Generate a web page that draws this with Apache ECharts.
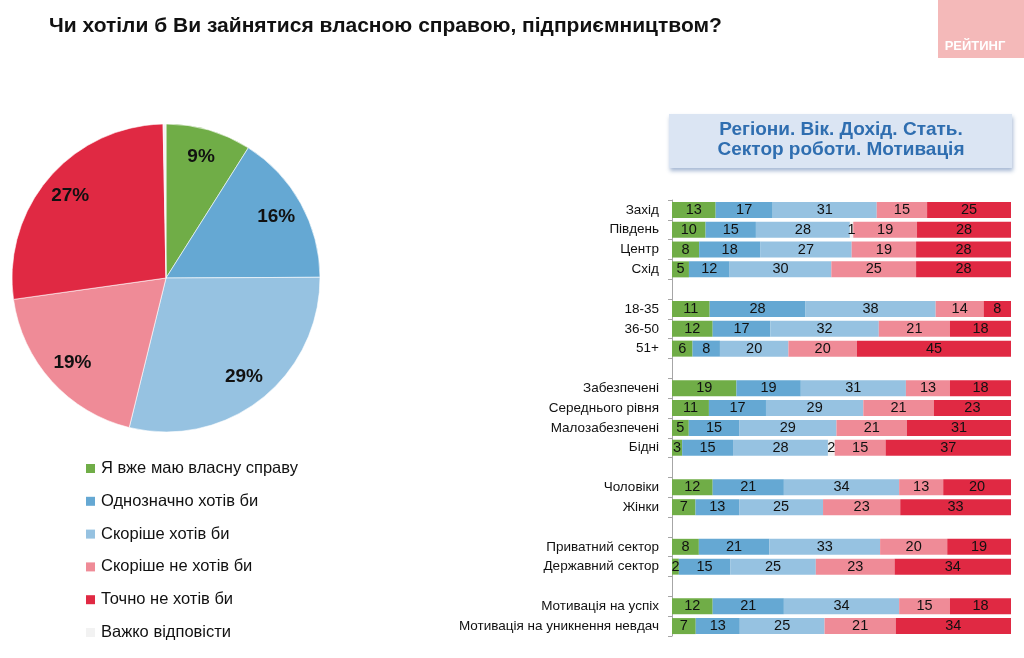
<!DOCTYPE html>
<html><head><meta charset="utf-8">
<script src="https://cdn.jsdelivr.net/npm/echarts@6/dist/echarts.min.js"></script>
<style>html,body{margin:0;padding:0;background:#fff}#c{width:1024px;height:658px}</style>
</head><body><div id="c"></div>
<script>
// ---- data ----
const answerNames = ['Я вже маю власну справу','Однозначно хотів би','Скоріше хотів би','Скоріше не хотів би','Точно не хотів би','Важко відповісти'];
const pieValues = [9, 16, 29, 19, 27, 0.3];
const pieLabels = ['9%','16%','29%','19%','27%',''];

const categories = ['Захід','Південь','Центр','Схід','',
  '18-35','36-50','51+','',
  'Забезпечені','Середнього рівня','Малозабезпечені','Бідні','',
  'Чоловіки','Жінки','',
  'Приватний сектор','Державний сектор','',
  'Мотивація на успіх','Мотивація на уникнення невдач'];
const ownBusiness = [13,10,8,5,null, 11,12,6,null, 19,11,5,3,null, 12,7,null, 8,2,null, 12,7];
const definitelyYes = [17,15,18,12,null, 28,17,8,null, 19,17,15,15,null, 21,13,null, 21,15,null, 21,13];
const ratherYes = [31,28,27,30,null, 38,32,20,null, 31,29,29,28,null, 34,25,null, 33,25,null, 34,25];
const hardToSay = [0,1,0,0,null, 0,0,0,null, 0,0,0,2,null, 0,0,null, 0,0,null, 0,0];
const ratherNo = [15,19,19,25,null, 14,21,20,null, 13,21,21,15,null, 13,23,null, 20,23,null, 15,21];
const definitelyNo = [25,28,28,28,null, 8,18,45,null, 18,23,31,37,null, 20,33,null, 19,34,null, 18,34];

// ---- styles ----
const colors = ['#70ad47','#65a8d3','#96c2e1','#ef8b97','#e02943','#f2f2f2'];
const FONT = '"Liberation Sans", Arial, sans-serif';
const NARROW = '"Liberation Sans Narrow", "Liberation Sans", Arial, sans-serif';

const barSeriesData = [ownBusiness, definitelyYes, ratherYes, hardToSay, ratherNo, definitelyNo];
const barColorIdx = [0,1,2,5,3,4];
const barNameIdx = [0,1,2,5,3,4];
const rowSums = categories.map((c,i)=> barSeriesData.reduce((s,arr)=> s + (arr[i]||0), 0));

const barSeries = barSeriesData.map((arr, si) => ({
  type: 'bar',
  name: answerNames[barNameIdx[si]],
  stack: 'all',
  barWidth: 16,
  xAxisIndex: 0, yAxisIndex: 0,
  itemStyle: { color: colors[barColorIdx[si]] },
  label: {
    show: true, position: 'inside', color: '#111', fontFamily: NARROW, fontSize: 14.5,
    formatter: p => (p.data && p.data.raw) ? String(p.data.raw) : ''
  },
  emphasis: { disabled: true },
  data: arr.map((v, i) => v == null ? null : { value: rowSums[i] ? v * 100 / rowSums[i] : 0, raw: v })
}));

const chart = echarts.init(document.getElementById('c'));
chart.setOption({
  animation: false,
  backgroundColor: '#fff',
  title: {
    text: 'Чи хотіли б Ви зайнятися власною справою, підприємництвом?',
    left: 44, top: 11,
    textStyle: { fontFamily: FONT, fontSize: 21, fontWeight: 'bold', color: '#111' }
  },
  legend: {
    orient: 'vertical', left: 81, top: 455,
    itemWidth: 9, itemHeight: 9, itemGap: 15.8,
    icon: 'rect',
    data: answerNames,
    textStyle: { fontFamily: FONT, fontSize: 16.5, color: '#111', padding: [0,0,0,1] },
    selectedMode: false
  },
  grid: { left: 672, right: 13, top: 200, height: 436 },
  xAxis: { type: 'value', min: 0, max: 100, show: false },
  yAxis: {
    type: 'category', inverse: true, data: categories,
    axisLine: { show: true, lineStyle: { color: '#a6a6a6', width: 1 } },
    axisTick: { show: true, length: 4, inside: false, lineStyle: { color: '#a6a6a6' } },
    axisLabel: { fontFamily: FONT, fontSize: 13.5, color: '#111', margin: 13 }
  },
  graphic: [
    { type: 'rect', shape: { x: 938, y: 0, width: 86, height: 58 }, style: { fill: '#f4b9b9' } },
    { type: 'text', x: 975, y: 46, style: { text: 'РЕЙТИНГ', fill: '#fff', font: 'bold 13px "Liberation Sans", Arial', align: 'center', verticalAlign: 'middle' } },
    { type: 'rect', shape: { x: 669, y: 114, width: 343, height: 54 },
      style: { fill: '#dbe5f3', shadowBlur: 4, shadowOffsetX: 1, shadowOffsetY: 3, shadowColor: 'rgba(60,100,160,0.45)' } },
    { type: 'text', x: 841, y: 130, style: { text: 'Регіони. Вік. Дохід. Стать.', fill: '#2f6eb0', font: 'bold 19px "Liberation Sans", Arial', align: 'center', verticalAlign: 'middle' } },
    { type: 'text', x: 841, y: 150, style: { text: 'Сектор роботи. Мотивація', fill: '#2f6eb0', font: 'bold 19px "Liberation Sans", Arial', align: 'center', verticalAlign: 'middle' } }
  ],
  series: [
    {
      type: 'pie', center: [166, 278], radius: [0, 154], startAngle: 90, clockwise: true,
      label: { show: false }, labelLine: { show: false }, emphasis: { disabled: true },
      itemStyle: { borderColor: '#fff', borderWidth: 0.6 },
      data: answerNames.map((n, i) => ({ name: n, value: pieValues[i], itemStyle: { color: colors[i] } }))
    },
    {
      type: 'pie', center: [166, 278], radius: [92, 154], startAngle: 90, clockwise: true, silent: true,
      legendHoverLink: false,
      label: { show: true, position: 'inside', fontFamily: FONT, fontSize: 19, fontWeight: 'bold', color: '#111',
        formatter: p => pieLabels[p.dataIndex] },
      labelLine: { show: false }, emphasis: { disabled: true },
      itemStyle: { color: 'rgba(0,0,0,0)' },
      data: answerNames.map((n, i) => ({ name: n, value: pieValues[i], itemStyle: { color: 'rgba(0,0,0,0)' } }))
    }
  ].concat(barSeries)
});
</script></body></html>
